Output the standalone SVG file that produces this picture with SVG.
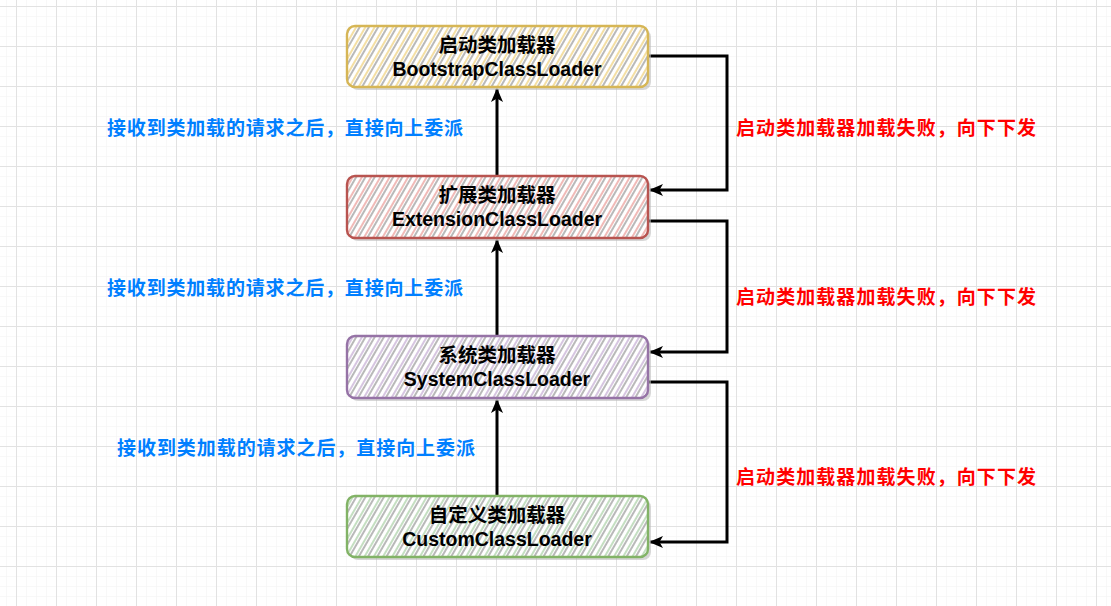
<svg xmlns="http://www.w3.org/2000/svg" width="1111" height="606" viewBox="0 0 1111 606">
<defs>
<pattern id="minor" x="6" y="6" width="10" height="10" patternUnits="userSpaceOnUse">
<path d="M0 0H10M0 0V10" fill="none" stroke="#f2f2f2" stroke-width="1"/>
</pattern>
<pattern id="major" x="16" y="6" width="40" height="40" patternUnits="userSpaceOnUse">
<path d="M0 0.5H40M0.5 0V40" fill="none" stroke="#e2e2e2" stroke-width="1"/>
</pattern>
<pattern id="hY" width="8" height="8" patternUnits="userSpaceOnUse" patternTransform="rotate(30)">
<line x1="2" y1="0" x2="2" y2="8" stroke="#f3dc9a" stroke-width="1.8"/>
<line x1="5" y1="0" x2="5" y2="8" stroke="#8a8a8a" stroke-width="1.2"/>
</pattern>
<pattern id="hR" width="8" height="8" patternUnits="userSpaceOnUse" patternTransform="rotate(30)">
<line x1="2" y1="0" x2="2" y2="8" stroke="#f0b3b0" stroke-width="1.8"/>
<line x1="5" y1="0" x2="5" y2="8" stroke="#8a8a8a" stroke-width="1.2"/>
</pattern>
<pattern id="hP" width="8" height="8" patternUnits="userSpaceOnUse" patternTransform="rotate(30)">
<line x1="2" y1="0" x2="2" y2="8" stroke="#d3c0de" stroke-width="1.8"/>
<line x1="5" y1="0" x2="5" y2="8" stroke="#8a8a8a" stroke-width="1.2"/>
</pattern>
<pattern id="hG" width="8" height="8" patternUnits="userSpaceOnUse" patternTransform="rotate(30)">
<line x1="2" y1="0" x2="2" y2="8" stroke="#bfdcbb" stroke-width="1.8"/>
<line x1="5" y1="0" x2="5" y2="8" stroke="#8a8a8a" stroke-width="1.2"/>
</pattern>
<marker id="arr" viewBox="0 0 14 14" refX="13" refY="7" markerWidth="14" markerHeight="14" markerUnits="userSpaceOnUse" orient="auto">
<path d="M0 1L14 7L0 13L3.5 7Z" fill="#000"/>
</marker>
<style>
.box{stroke-width:2.4}
.shadow{fill:#bdbdbd;opacity:0.6}
.t1{font-family:"Liberation Sans","Noto Sans CJK SC",sans-serif;font-weight:bold;font-size:19.5px;fill:#000;text-anchor:middle}
.t2{font-family:"Liberation Sans","Noto Sans CJK SC",sans-serif;font-weight:bold;font-size:19.5px;fill:#000;text-anchor:middle}
.blue{font-family:"Noto Sans CJK SC",sans-serif;font-weight:bold;font-size:19px;fill:#007fff}
.red{font-family:"Noto Sans CJK SC",sans-serif;font-weight:bold;font-size:19px;fill:#ff0000}
.conn{fill:none;stroke:#000;stroke-width:3}
</style>
</defs>
<rect width="1111" height="606" fill="#fff"/>
<rect width="1111" height="606" fill="url(#minor)"/>
<rect width="1111" height="606" fill="url(#major)"/>

<g id="connectors">
<path class="conn" d="M497 176V89" marker-end="url(#arr)"/>
<path class="conn" d="M497 336V240" marker-end="url(#arr)"/>
<path class="conn" d="M497 496V400" marker-end="url(#arr)"/>
<path class="conn" d="M648 56H727V190H650" marker-end="url(#arr)"/>
<path class="conn" d="M648 221H727V352H650" marker-end="url(#arr)"/>
<path class="conn" d="M648 382H727V542H650" marker-end="url(#arr)"/>
</g>

<g id="node-bootstrap">
<rect class="shadow" x="350" y="29" width="301" height="61" rx="8"/>
<rect x="347" y="26" width="301" height="61" rx="8" fill="#fff"/>
<rect class="box" x="347" y="26" width="301" height="61" rx="8" fill="url(#hY)" stroke="#d6b656"/>
<text class="t1" x="497" y="52">启动类加载器</text>
<text class="t2" x="497" y="76">BootstrapClassLoader</text>
</g>

<g id="node-extension">
<rect class="shadow" x="350" y="179" width="301" height="62" rx="8"/>
<rect x="347" y="176" width="301" height="62" rx="8" fill="#fff"/>
<rect class="box" x="347" y="176" width="301" height="62" rx="8" fill="url(#hR)" stroke="#b85450"/>
<text class="t1" x="497" y="202">扩展类加载器</text>
<text class="t2" x="497" y="226">ExtensionClassLoader</text>
</g>

<g id="node-system">
<rect class="shadow" x="350" y="339" width="301" height="62" rx="8"/>
<rect x="347" y="336" width="301" height="62" rx="8" fill="#fff"/>
<rect class="box" x="347" y="336" width="301" height="62" rx="8" fill="url(#hP)" stroke="#9673a6"/>
<text class="t1" x="497" y="362">系统类加载器</text>
<text class="t2" x="497" y="386">SystemClassLoader</text>
</g>

<g id="node-custom">
<rect class="shadow" x="350" y="499" width="301" height="61" rx="8"/>
<rect x="347" y="496" width="301" height="61" rx="8" fill="#fff"/>
<rect class="box" x="347" y="496" width="301" height="61" rx="8" fill="url(#hG)" stroke="#82b366"/>
<text class="t1" x="497" y="522">自定义类加载器</text>
<text class="t2" x="497" y="546">CustomClassLoader</text>
</g>

<g id="labels">
<text class="blue" x="107" y="135" textLength="356" lengthAdjust="spacing">接收到类加载的请求之后，直接向上委派</text>
<text class="blue" x="107" y="295" textLength="356" lengthAdjust="spacing">接收到类加载的请求之后，直接向上委派</text>
<text class="blue" x="117" y="455" textLength="358" lengthAdjust="spacing">接收到类加载的请求之后，直接向上委派</text>
<text class="red" x="736" y="135" textLength="300" lengthAdjust="spacing">启动类加载器加载失败，向下下发</text>
<text class="red" x="736" y="304" textLength="300" lengthAdjust="spacing">启动类加载器加载失败，向下下发</text>
<text class="red" x="736" y="484" textLength="300" lengthAdjust="spacing">启动类加载器加载失败，向下下发</text>
</g>
</svg>
